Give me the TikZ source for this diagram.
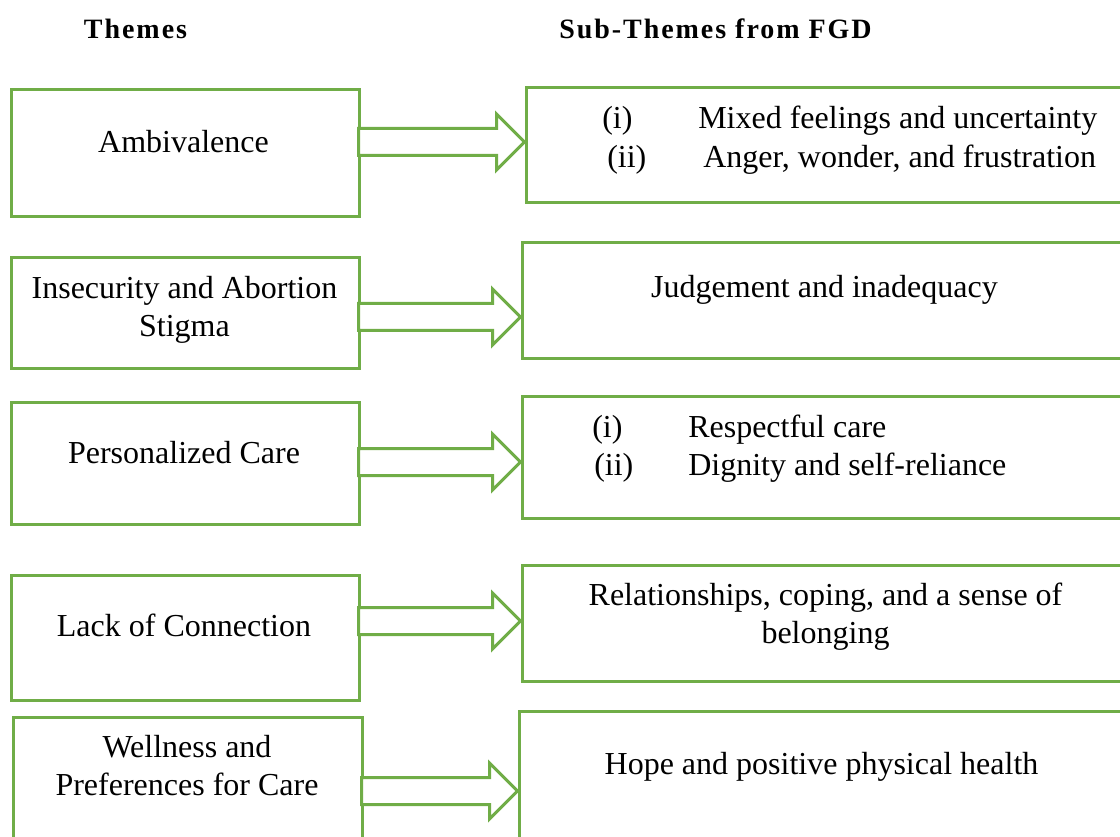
\documentclass[tikz,border=0pt]{standalone}
\usepackage{fontspec}
\setmainfont{Liberation Serif}
\usetikzlibrary{calc,fit}
\definecolor{boxgreen}{RGB}{112,173,71}
% block arrow from theme box to sub-theme box at height #3
\newcommand{\fatarrow}[3]{%
  \path (#1.east |- 0,#3) coordinate (a0) (#2.west |- 0,#3) coordinate (a1);
  \draw[fatline] ($(a0)+(-2,-13.5)$) -- ($(a1)+(-28,-13.5)$) -- ($(a1)+(-28,-28)$) -- (a1)
    -- ($(a1)+(-28,28)$) -- ($(a1)+(-28,13.5)$) -- ($(a0)+(-2,13.5)$) -- cycle;}

\begin{document}
\begin{tikzpicture}[x=0.75pt,y=-0.75pt,
    box/.style={draw=boxgreen, line width=2.25pt, inner sep=0pt},
    fatline/.style={draw=boxgreen, line width=2.25pt, fill=white, line join=miter},
    txt/.style={inner sep=0pt, align=center, font=\fontsize{24}{28.5}\selectfont},
    item/.style={txt, anchor=base west},
    head/.style={inner sep=0pt, anchor=base,
      font=\fontsize{21}{25}\selectfont\bfseries\addfontfeatures{LetterSpace=7}}]
  \useasboundingbox (0,0) rectangle (1120,837);
  % headings
  \node[head] (hthemes) at (135.5,39) {Themes};
  \node[head] (hsub) at (715.5,39) {Sub-Themes from FGD};
  % theme boxes
  \node[box, fit={(11,90) (359,217)}] (t1) {};
  \node[box, fit={(11,258) (359,369)}] (t2) {};
  \node[box, fit={(11,403) (359,524)}] (t3) {};
  \node[box, fit={(11,575) (359,700)}] (t4) {};
  \node[box, fit={(13,717) (362,870)}] (t5) {};
  \node[txt] (t1txt) at (183.5,142) {Ambivalence};
  \node[txt] (t2txt) at (184.5,310) {Insecurity and Abortion\\Stigma};
  \node[txt] (t3txt) at (184,453) {Personalized Care};
  \node[txt] (t4txt) at (184,625) {Lack of Connection};
  \node[txt] (t5txt) at (187,766) {Wellness and\\Preferences for Care};
  % sub-theme boxes
  \node[box, fit={(526,88) (1140,203)}] (s1) {};
  \node[box, fit={(522,243) (1140,359)}] (s2) {};
  \node[box, fit={(522,397) (1140,518)}] (s3) {};
  \node[box, fit={(522,565) (1140,681)}] (s4) {};
  \node[box, fit={(519,711) (1140,870)}] (s5) {};
  \node[item] (s1ia) at (602,129) {(i)};
  \node[item] (s1ib) at (698,129) {Mixed feelings and uncertainty};
  \node[item] (s1iia) at (607,168) {(ii)};
  \node[item] (s1iib) at (703,168) {Anger, wonder, and frustration};
  \node[txt] (s2txt) at (824.5,290) {Judgement and inadequacy};
  \node[item] (s3ia) at (592,437) {(i)};
  \node[item] (s3ib) at (688,437) {Respectful care};
  \node[item] (s3iia) at (594,475) {(ii)};
  \node[item] (s3iib) at (688,475) {Dignity and self-reliance};
  \node[txt] (s4txt) at (825.5,617) {Relationships, coping, and a sense of\\belonging};
  \node[txt] (s5txt) at (821.5,767) {Hope and positive physical health};
  % arrows
  \fatarrow{t1}{s1}{142}
  \fatarrow{t2}{s2}{317}
  \fatarrow{t3}{s3}{462}
  \fatarrow{t4}{s4}{621}
  \fatarrow{t5}{s5}{791}
\end{tikzpicture}
\end{document}
